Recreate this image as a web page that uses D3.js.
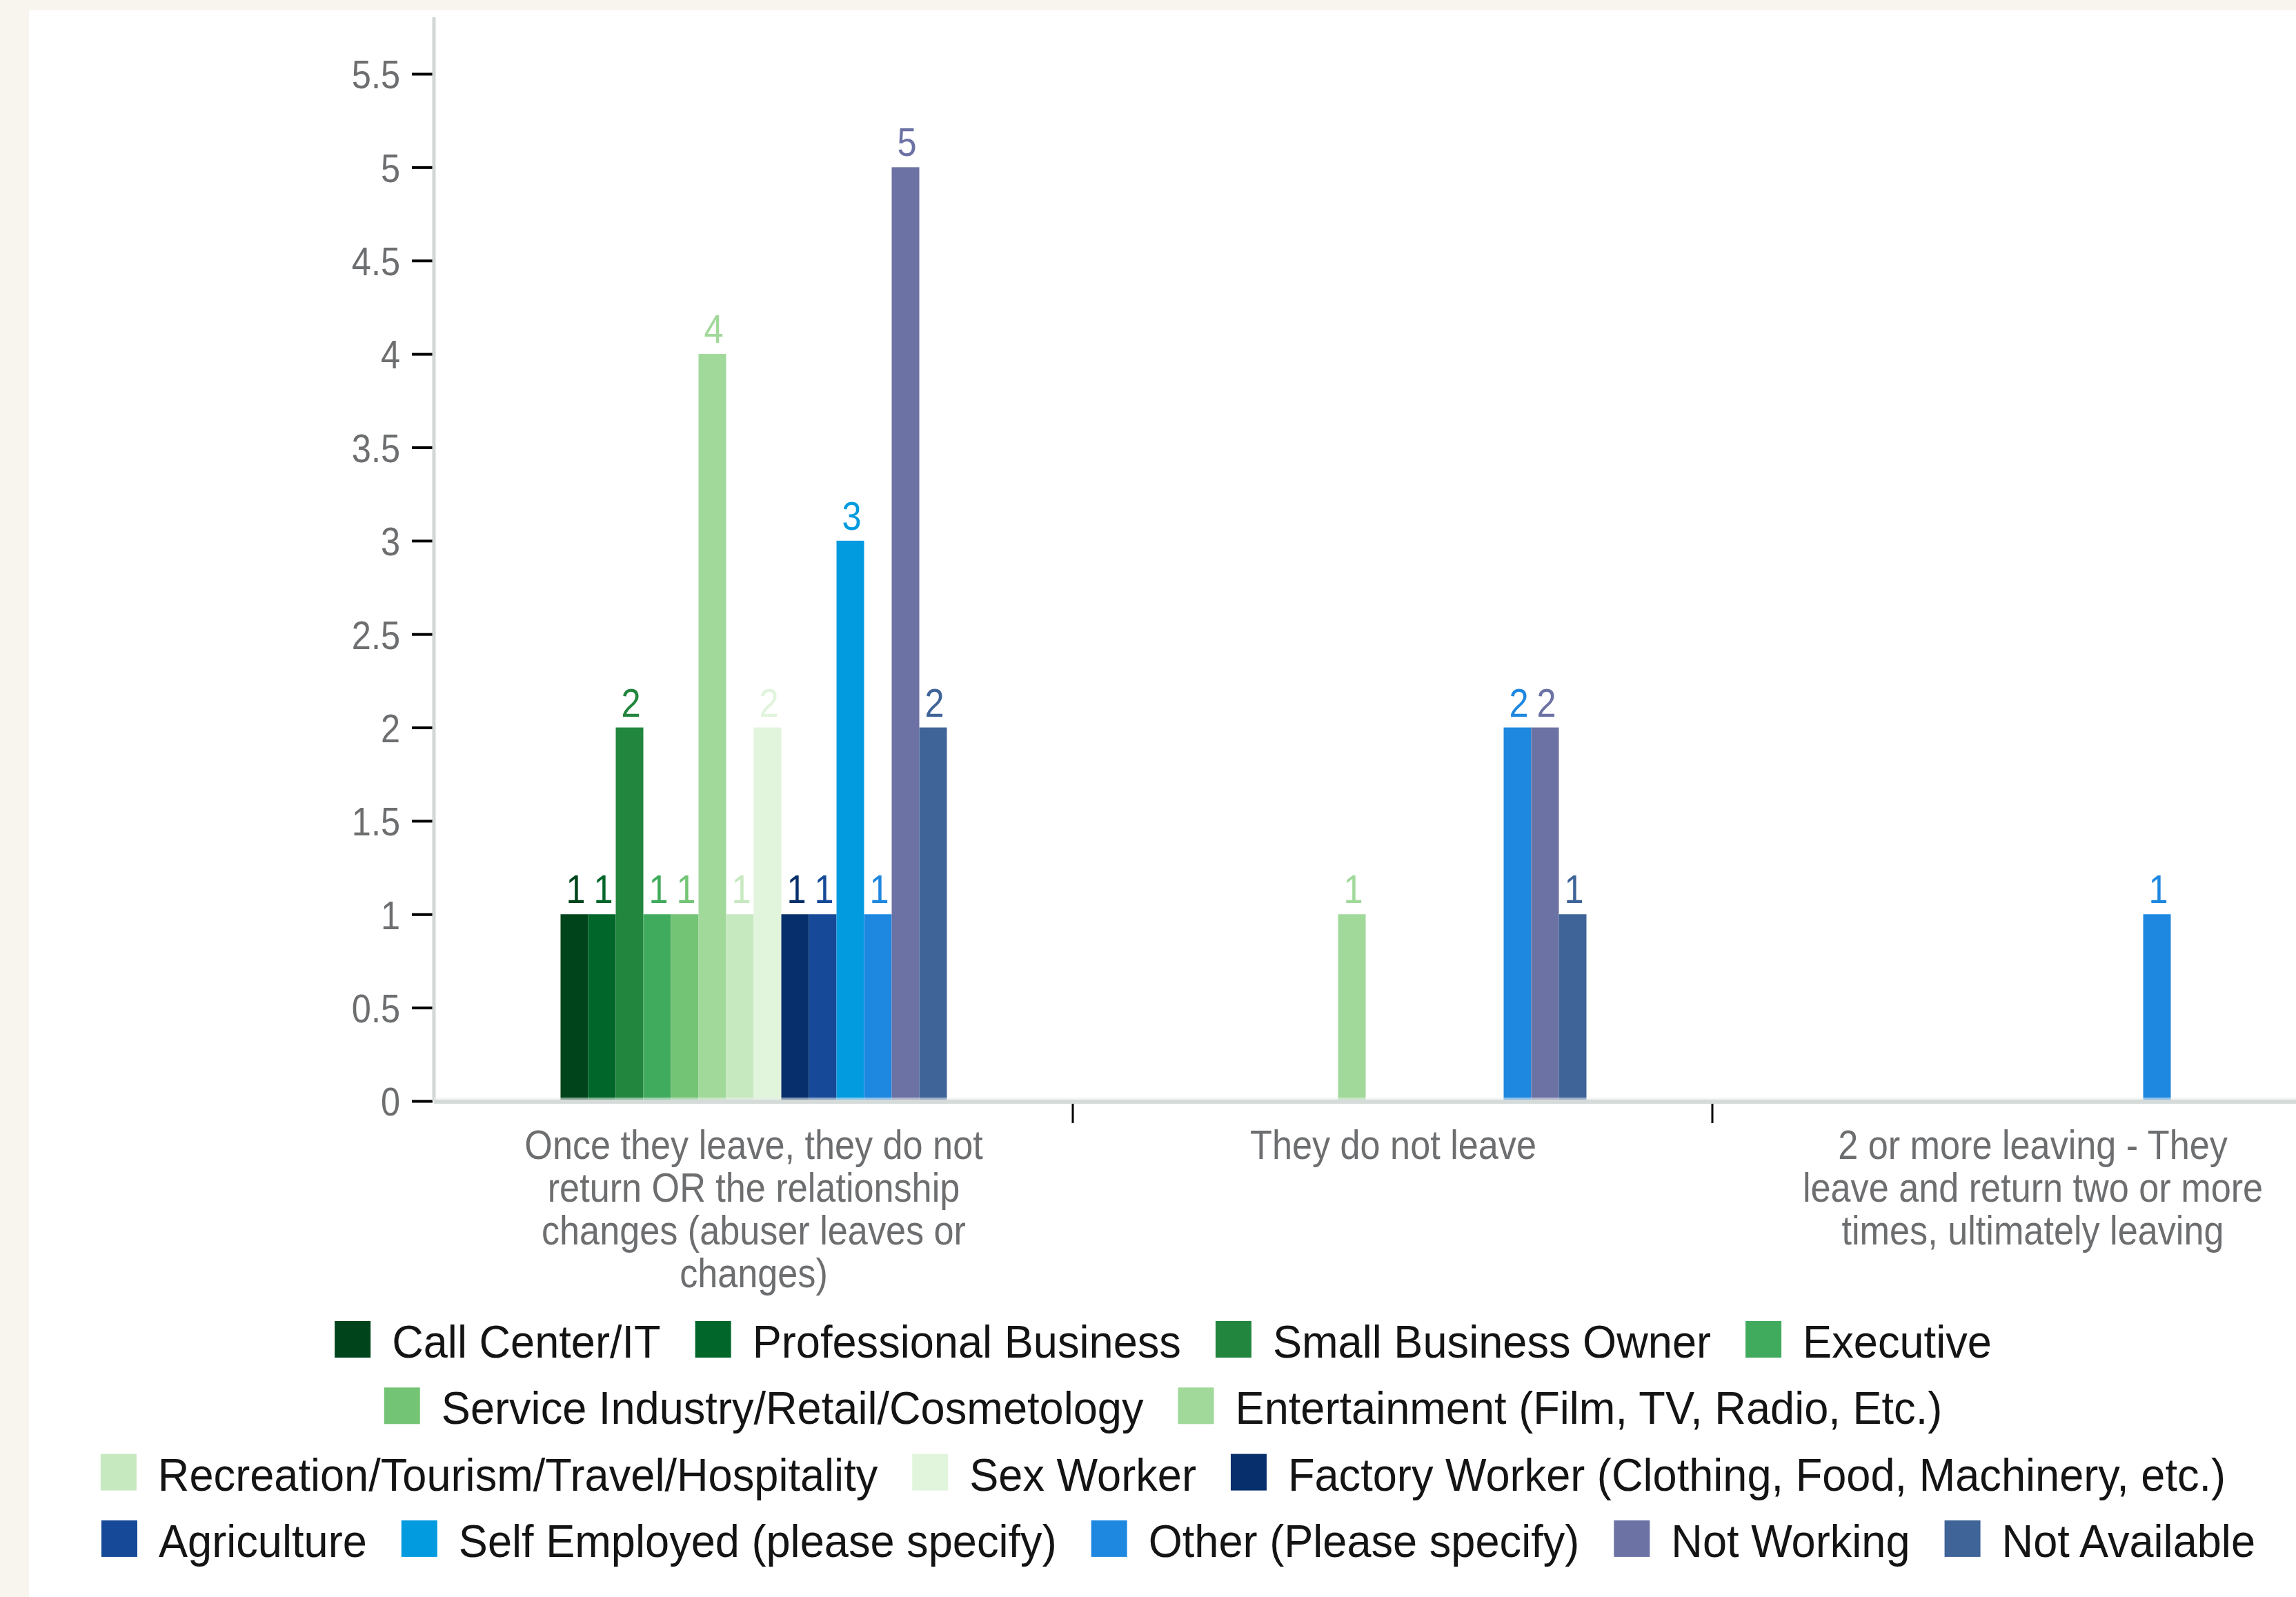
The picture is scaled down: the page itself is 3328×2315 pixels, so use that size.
<!DOCTYPE html>
<html>
<head>
<meta charset="utf-8">
<script src="https://cdn.jsdelivr.net/npm/d3@7"></script>
<style>
  body { margin: 0; background: #f8f5ee; }
  text { font-family: "Liberation Sans", Arial, sans-serif; }
</style>
</head>
<body>
<svg id="chart" width="3328" height="2315"></svg>
<script>
// categories on the x axis (already broken into lines like the original)
const categories = ['once', 'notLeave', 'twoOrMore'];
const categoryLines = [
  ['Once they leave, they do not', 'return OR the relationship', 'changes (abuser leaves or', 'changes)'],
  ['They do not leave'],
  ['2 or more leaving - They', 'leave and return two or more', 'times, ultimately leaving']
];

const series = [
  'Call Center/IT', 'Professional Business', 'Small Business Owner', 'Executive',
  'Service Industry/Retail/Cosmetology', 'Entertainment (Film, TV, Radio, Etc.)',
  'Recreation/Tourism/Travel/Hospitality', 'Sex Worker',
  'Factory Worker (Clothing, Food, Machinery, etc.)', 'Agriculture',
  'Self Employed (please specify)', 'Other (Please specify)', 'Not Working', 'Not Available'
];
const seriesColors = [
  '#00441b', '#006629', '#22863f', '#41ab5d', '#74c476', '#a1d99b', '#c7e9c0', '#e1f4dc',
  '#062f6b', '#164a98', '#039be0', '#1e88e0', '#6c72a4', '#3f6498'
];

const valuesOnce = [1, 1, 2, 1, 1, 4, 1, 2, 1, 1, 3, 1, 5, 2];
const valuesNotLeave = [0, 0, 0, 0, 0, 1, 0, 0, 0, 0, 0, 2, 2, 1];
const valuesTwoOrMore = [0, 0, 0, 0, 0, 0, 0, 0, 0, 0, 0, 1, 0, 0];

const yTicks = [0, 0.5, 1, 1.5, 2, 2.5, 3, 3.5, 4, 4.5, 5, 5.5];
const legendRows = [[0, 1, 2, 3], [4, 5], [6, 7, 8], [9, 10, 11, 12, 13]];

const allValues = [valuesOnce, valuesNotLeave, valuesTwoOrMore];

const svg = d3.select('#chart');

// white panel
svg.append('rect')
  .attr('x', 42).attr('y', 15)
  .attr('width', 3328 - 42).attr('height', 2315 - 15)
  .attr('fill', '#ffffff');

const axisX = 629;
const bandW = 927;
const x0 = d3.scaleBand().domain(categories).range([axisX, axisX + 3 * bandW]).padding(0);
const x1 = d3.scaleBand().domain(series).range([0, 560]);
const groupOffset = (x0.bandwidth() - x1.range()[1]) / 2;
const y = d3.scaleLinear().domain([0, 5.5]).range([1596, 107]);

const gray = '#6d6e70';
const sx = 0.87;

// y axis
const yAxis = svg.append('g')
  .attr('transform', `translate(${axisX - 2},0)`)
  .call(d3.axisLeft(y).tickValues(yTicks).tickSize(30).tickFormat(d3.format('')));
yAxis.select('.domain').remove();
yAxis.selectAll('.tick line').attr('stroke', '#000').attr('stroke-width', 4);
yAxis.selectAll('.tick text')
  .attr('x', 0)
  .attr('dy', '0.36em')
  .attr('transform', `translate(-47,0) scale(${sx},1)`)
  .attr('fill', gray)
  .attr('font-size', 58);

svg.append('line')
  .attr('x1', axisX).attr('x2', axisX)
  .attr('y1', 25).attr('y2', y(0))
  .attr('stroke', '#d3d8d6').attr('stroke-width', 5);

// bars
const groups = svg.append('g').selectAll('g')
  .data(categories)
  .join('g')
  .attr('transform', d => `translate(${x0(d) + groupOffset},0)`);

groups.each(function (cat, ci) {
  const g = d3.select(this);
  const vals = allValues[ci].map((v, i) => ({ v, i }));
  g.selectAll('rect')
    .data(vals.filter(d => d.v > 0))
    .join('rect')
    .attr('x', d => x1(series[d.i]))
    .attr('y', d => y(d.v))
    .attr('width', x1.bandwidth())
    .attr('height', d => y(0) - y(d.v))
    .attr('fill', d => seriesColors[d.i]);
  g.selectAll('text')
    .data(vals.filter(d => d.v > 0))
    .join('text')
    .attr('transform', d => `translate(${x1(series[d.i]) + x1.bandwidth() / 2 + 2},${y(d.v) - 16}) scale(${sx},1)`)
    .attr('text-anchor', 'middle')
    .attr('font-size', 58)
    .attr('fill', d => seriesColors[d.i])
    .text(d => d.v);
});

// x axis
svg.append('rect')
  .attr('x', axisX).attr('y', y(0) - 5)
  .attr('width', 3328 - axisX).attr('height', 5)
  .attr('fill', '#eeeeee').attr('opacity', 0.55);
svg.append('line')
  .attr('x1', axisX).attr('x2', 3328)
  .attr('y1', y(0) + 1).attr('y2', y(0) + 1)
  .attr('stroke', '#d5dbd9').attr('stroke-width', 6);

svg.append('g').selectAll('line')
  .data(categories.slice(1))
  .join('line')
  .attr('x1', d => x0(d) - 1).attr('x2', d => x0(d) - 1)
  .attr('y1', y(0) + 4).attr('y2', y(0) + 32)
  .attr('stroke', '#000').attr('stroke-width', 3);

// category labels
categories.forEach((c, ci) => {
  const cx = x0(c) + x0.bandwidth() / 2;
  categoryLines[ci].forEach((line, li) => {
    svg.append('text')
      .attr('transform', `translate(${cx},${1680 + li * 62}) scale(${sx},1)`)
      .attr('text-anchor', 'middle')
      .attr('font-size', 60)
      .attr('fill', gray)
      .text(line);
  });
});

// legend
const legend = svg.append('g');
const swatch = 52, swGap = 31, itemGap = 50, legSx = 0.957, legCenter = 1686;
const rowShift = [0, 0, 0, 22];
legendRows.forEach((row, ri) => {
  const top = 1915 + ri * 96.3;
  const rowG = legend.append('g');
  let cursor = 0;
  row.forEach(i => {
    rowG.append('rect')
      .attr('x', cursor).attr('y', top)
      .attr('width', swatch).attr('height', 53)
      .attr('fill', seriesColors[i]);
    const t = rowG.append('text')
      .attr('transform', `translate(${cursor + swatch + swGap},${top + 53}) scale(${legSx},1)`)
      .attr('font-size', 66)
      .attr('fill', '#141414')
      .text(series[i]);
    cursor += swatch + swGap + t.node().getComputedTextLength() * legSx + itemGap;
  });
  const rowW = cursor - itemGap;
  rowG.attr('transform', `translate(${legCenter - rowW / 2 + rowShift[ri]},0)`);
});
</script>
</body>
</html>
